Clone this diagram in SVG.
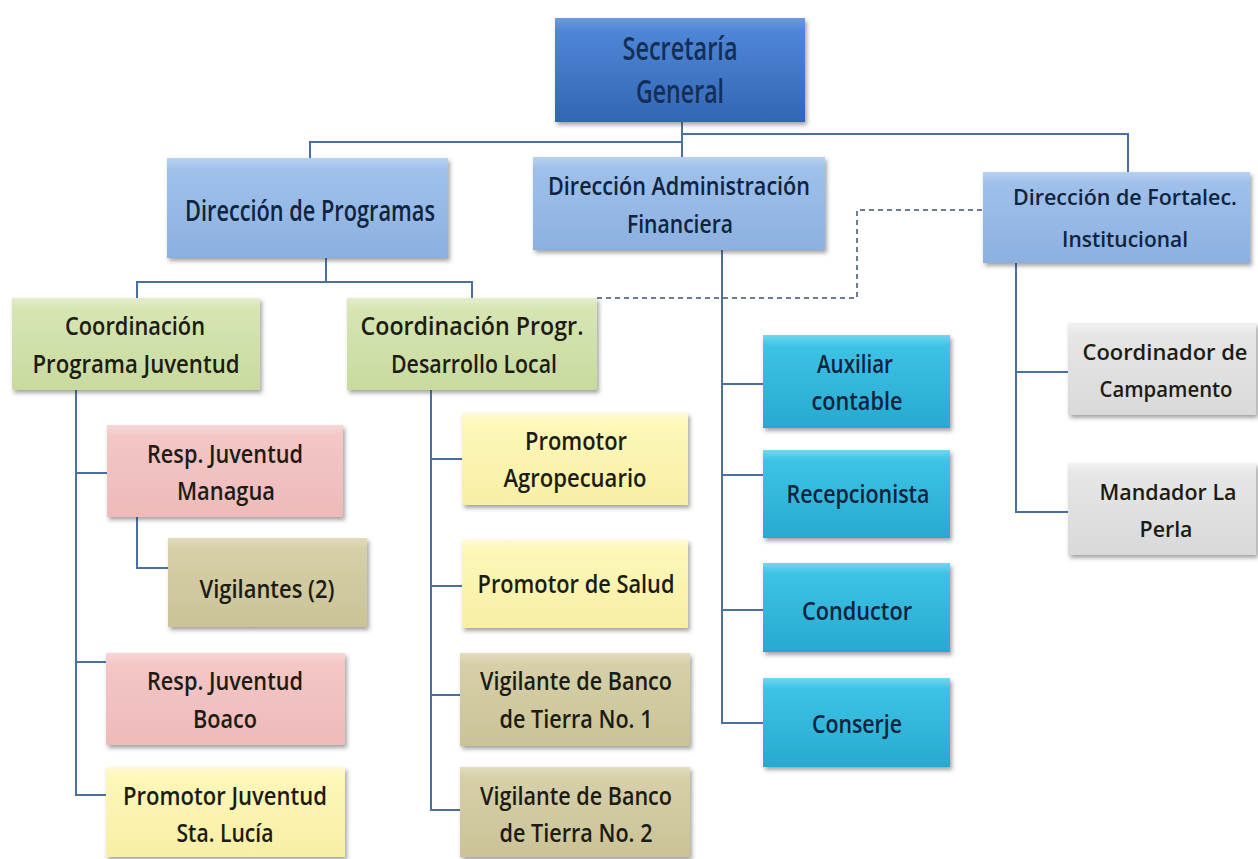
<svg xmlns="http://www.w3.org/2000/svg" width="1258" height="859" viewBox="0 0 1258 859">
<defs>
<filter id="sh" x="-10%" y="-10%" width="125%" height="130%">
<feDropShadow dx="2" dy="3" stdDeviation="2" flood-color="#303030" flood-opacity="0.45"/>
</filter>
<linearGradient id="gSG" x1="0" y1="0" x2="0" y2="1"><stop offset="0" stop-color="#6f9be0"/><stop offset="0.12" stop-color="#4f86d6"/><stop offset="1" stop-color="#3266b5"/></linearGradient>
<linearGradient id="gDir" x1="0" y1="0" x2="0" y2="1"><stop offset="0" stop-color="#b9d1f0"/><stop offset="0.12" stop-color="#9fc0ea"/><stop offset="1" stop-color="#8cb0e0"/></linearGradient>
<linearGradient id="gGrn" x1="0" y1="0" x2="0" y2="1"><stop offset="0" stop-color="#e4eecb"/><stop offset="0.12" stop-color="#d6e5b3"/><stop offset="1" stop-color="#c9da9f"/></linearGradient>
<linearGradient id="gPnk" x1="0" y1="0" x2="0" y2="1"><stop offset="0" stop-color="#f8d6d6"/><stop offset="0.12" stop-color="#f4c6c6"/><stop offset="1" stop-color="#eebaba"/></linearGradient>
<linearGradient id="gKhk" x1="0" y1="0" x2="0" y2="1"><stop offset="0" stop-color="#e3ddbf"/><stop offset="0.12" stop-color="#d6cfa8"/><stop offset="1" stop-color="#cbc397"/></linearGradient>
<linearGradient id="gYel" x1="0" y1="0" x2="0" y2="1"><stop offset="0" stop-color="#fffbd2"/><stop offset="0.12" stop-color="#fdf7b8"/><stop offset="1" stop-color="#f7efa6"/></linearGradient>
<linearGradient id="gTeal" x1="0" y1="0" x2="0" y2="1"><stop offset="0" stop-color="#6fd8f0"/><stop offset="0.12" stop-color="#3cc3e6"/><stop offset="1" stop-color="#28a9cf"/></linearGradient>
<linearGradient id="gGry" x1="0" y1="0" x2="0" y2="1"><stop offset="0" stop-color="#f2f2f2"/><stop offset="0.12" stop-color="#e6e6e6"/><stop offset="1" stop-color="#d9d9d9"/></linearGradient>
</defs>
<style>
.b{filter:url(#sh);stroke:none}
.sg{fill:url(#gSG)}
.dir{fill:url(#gDir)}
.grn{fill:url(#gGrn)}
.pnk{fill:url(#gPnk)}
.khk{fill:url(#gKhk)}
.yel{fill:url(#gYel)}
.teal{fill:url(#gTeal)}
.gry{fill:url(#gGry)}
text{font-family:"Open Sans","Liberation Sans",sans-serif;text-anchor:middle;font-size:25px;font-weight:600}
.tb{fill:#0f243e}
.td{fill:#1c1c12}
.big{font-size:32px;fill:#132f57}
.mid{font-size:28px}
.sm{font-size:22px}
.c{fill:none;stroke:#4a6fa5;stroke-width:2}
.d{fill:none;stroke:#6a7c96;stroke-width:2;stroke-dasharray:5 4}
</style>
<rect width="1258" height="859" fill="#ffffff"/>
<g id="connectors">
<path class="c" d="M682 122V157M310 158V142H682M682 134H1128V172"/>
<path class="c" d="M326 258V282M137 298V282H472V298"/>
<path class="c" d="M76 390V795H106M76 473H107M76 662H106"/>
<path class="c" d="M137 517V568H168"/>
<path class="c" d="M431 390V810H460M431 459H462M431 586H462M431 695H460"/>
<path class="c" d="M722 250V723H763M722 384H763M722 475H763M722 610H763"/>
<path class="c" d="M1016 263V512H1068M1016 372H1068"/>
<path class="d" d="M597 298H857V210H983"/>
</g>
<g id="n-sg"><rect class="b sg" x="555" y="18" width="250" height="104"/><text class="big" x="680" y="60" textLength="115" lengthAdjust="spacingAndGlyphs">Secretaría</text><text class="big" x="680" y="103" textLength="88" lengthAdjust="spacingAndGlyphs">General</text></g>
<g id="n-dp"><rect class="b dir" x="167" y="158" width="281" height="100"/><text class="tb mid" x="310" y="221" textLength="250" lengthAdjust="spacingAndGlyphs">Dirección de Programas</text></g>
<g id="n-daf"><rect class="b dir" x="533" y="157" width="292" height="93"/><text class="tb" x="679" y="195" textLength="262" lengthAdjust="spacingAndGlyphs">Dirección Administración</text><text class="tb" x="680" y="233" textLength="106" lengthAdjust="spacingAndGlyphs">Financiera</text></g>
<g id="n-dfi"><rect class="b dir" x="983" y="172" width="267" height="91"/><text class="tb sm" x="1125" y="205" textLength="224" lengthAdjust="spacingAndGlyphs">Dirección de Fortalec.</text><text class="tb sm" x="1125" y="247" textLength="126" lengthAdjust="spacingAndGlyphs">Institucional</text></g>
<g id="n-cpj"><rect class="b grn" x="12" y="298" width="248" height="92"/><text class="td" x="135" y="335" textLength="140" lengthAdjust="spacingAndGlyphs">Coordinación</text><text class="td" x="136" y="373" textLength="207" lengthAdjust="spacingAndGlyphs">Programa Juventud</text></g>
<g id="n-cpdl"><rect class="b grn" x="347" y="298" width="250" height="92"/><text class="td" x="472" y="335" textLength="223" lengthAdjust="spacingAndGlyphs">Coordinación Progr.</text><text class="td" x="474" y="373" textLength="166" lengthAdjust="spacingAndGlyphs">Desarrollo Local</text></g>
<g id="n-rjm"><rect class="b pnk" x="107" y="425" width="236" height="92"/><text class="td" x="225" y="463" textLength="156" lengthAdjust="spacingAndGlyphs">Resp. Juventud</text><text class="td" x="226" y="500" textLength="98" lengthAdjust="spacingAndGlyphs">Managua</text></g>
<g id="n-vig2"><rect class="b khk" x="168" y="538" width="199" height="89"/><text class="td" x="267" y="598" textLength="135" lengthAdjust="spacingAndGlyphs">Vigilantes (2)</text></g>
<g id="n-rjb"><rect class="b pnk" x="106" y="653" width="239" height="92"/><text class="td" x="225" y="690" textLength="156" lengthAdjust="spacingAndGlyphs">Resp. Juventud</text><text class="td" x="225" y="728" textLength="64" lengthAdjust="spacingAndGlyphs">Boaco</text></g>
<g id="n-pjsl"><rect class="b yel" x="106" y="767" width="239" height="90"/><text class="td" x="225" y="805" textLength="204" lengthAdjust="spacingAndGlyphs">Promotor Juventud</text><text class="td" x="225" y="842" textLength="97" lengthAdjust="spacingAndGlyphs">Sta. Lucía</text></g>
<g id="n-pa"><rect class="b yel" x="462" y="413" width="226" height="92"/><text class="td" x="576" y="450" textLength="102" lengthAdjust="spacingAndGlyphs">Promotor</text><text class="td" x="575" y="487" textLength="143" lengthAdjust="spacingAndGlyphs">Agropecuario</text></g>
<g id="n-ps"><rect class="b yel" x="462" y="540" width="226" height="88"/><text class="td" x="576" y="593" textLength="197" lengthAdjust="spacingAndGlyphs">Promotor de Salud</text></g>
<g id="n-vb1"><rect class="b khk" x="460" y="653" width="230" height="93"/><text class="td" x="576" y="690" textLength="192" lengthAdjust="spacingAndGlyphs">Vigilante de Banco</text><text class="td" x="576" y="728" textLength="153" lengthAdjust="spacingAndGlyphs">de Tierra No. 1</text></g>
<g id="n-vb2"><rect class="b khk" x="460" y="767" width="230" height="90"/><text class="td" x="576" y="805" textLength="192" lengthAdjust="spacingAndGlyphs">Vigilante de Banco</text><text class="td" x="576" y="842" textLength="153" lengthAdjust="spacingAndGlyphs">de Tierra No. 2</text></g>
<g id="n-ac"><rect class="b teal" x="763" y="335" width="187" height="93"/><text class="tb" x="855" y="373" textLength="76" lengthAdjust="spacingAndGlyphs">Auxiliar</text><text class="tb" x="857" y="410" textLength="91" lengthAdjust="spacingAndGlyphs">contable</text></g>
<g id="n-rec"><rect class="b teal" x="763" y="450" width="187" height="88"/><text class="tb" x="858" y="503" textLength="143" lengthAdjust="spacingAndGlyphs">Recepcionista</text></g>
<g id="n-con"><rect class="b teal" x="763" y="563" width="187" height="89"/><text class="tb" x="857" y="620" textLength="110" lengthAdjust="spacingAndGlyphs">Conductor</text></g>
<g id="n-cons"><rect class="b teal" x="763" y="678" width="187" height="89"/><text class="tb" x="857" y="733" textLength="90" lengthAdjust="spacingAndGlyphs">Conserje</text></g>
<g id="n-cc"><rect class="b gry" x="1068" y="323" width="188" height="92"/><text class="td sm" x="1165" y="360" textLength="165" lengthAdjust="spacingAndGlyphs">Coordinador de</text><text class="td sm" x="1166" y="397" textLength="133" lengthAdjust="spacingAndGlyphs">Campamento</text></g>
<g id="n-mlp"><rect class="b gry" x="1068" y="463" width="188" height="92"/><text class="td sm" x="1168" y="500" textLength="137" lengthAdjust="spacingAndGlyphs">Mandador La</text><text class="td sm" x="1166" y="537" textLength="53" lengthAdjust="spacingAndGlyphs">Perla</text></g>
</svg>
